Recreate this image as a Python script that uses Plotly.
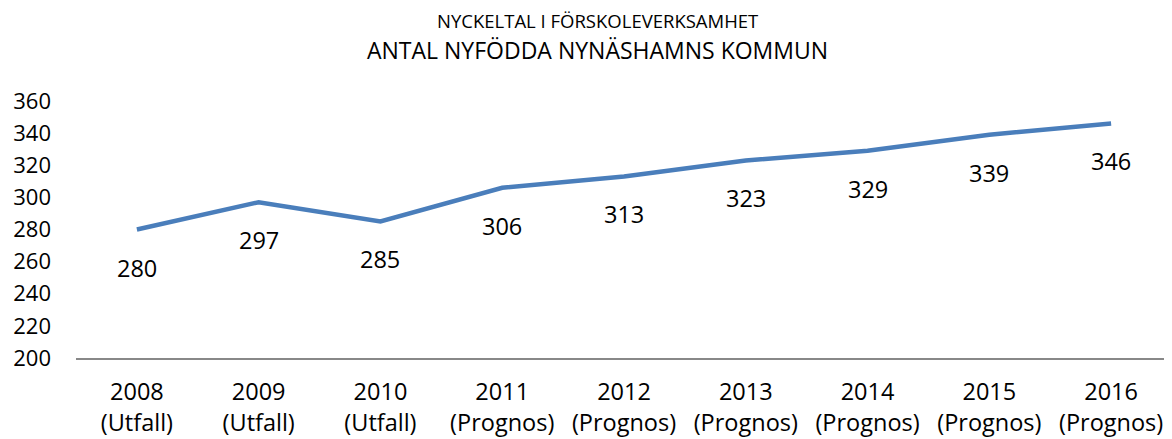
import plotly.graph_objects as go

categories = ["2008<br>(Utfall)", "2009<br>(Utfall)", "2010<br>(Utfall)", "2011<br>(Prognos)",
              "2012<br>(Prognos)", "2013<br>(Prognos)", "2014<br>(Prognos)", "2015<br>(Prognos)",
              "2016<br>(Prognos)"]
values = [280, 297, 285, 306, 313, 323, 329, 339, 346]
y_ticks = [200, 220, 240, 260, 280, 300, 320, 340, 360]

FONT = "Open Sans"

fig = go.Figure()
fig.add_trace(go.Scatter(
    x=categories, y=values, mode="lines",
    line=dict(color="#4A7EBB", width=4.5),
    hoverinfo="skip", showlegend=False,
))

for c, v in zip(categories, values):
    fig.add_annotation(x=c, y=v, text=str(v), showarrow=False, yshift=-38,
                       yanchor="middle",
                       font=dict(family=FONT, size=23.5, color="#000000"))

fig.add_annotation(xref="paper", yref="paper", x=0.476, y=1.0, yshift=81,
                   yanchor="middle",
                   text="NYCKELTAL I FÖRSKOLEVERKSAMHET", showarrow=False,
                   font=dict(family=FONT, size=18.5, color="#000000"))
fig.add_annotation(xref="paper", yref="paper", x=0.476, y=1.0, yshift=51,
                   yanchor="middle",
                   text="ANTAL NYFÖDDA NYNÄSHAMNS KOMMUN", showarrow=False,
                   font=dict(family=FONT, size=23, color="#000000"))

fig.update_layout(
    width=1164, height=431,
    margin=dict(l=68, r=0, t=93, b=81),
    paper_bgcolor="white", plot_bgcolor="white",
    font=dict(family=FONT, size=23, color="#000000"),
    xaxis=dict(type="category", range=[-0.5, 8.5], showgrid=False,
               showline=True, linecolor="#888888", linewidth=1.5,
               ticks="", tickfont=dict(size=23.5), ticklabelstandoff=12,
               automargin=False),
    yaxis=dict(range=[200, 360], tickvals=y_ticks, showgrid=False,
               zeroline=False, showline=False, ticks="",
               tickfont=dict(size=22), ticklabelstandoff=24,
               automargin=False),
)

fig.write_html("out.html")
